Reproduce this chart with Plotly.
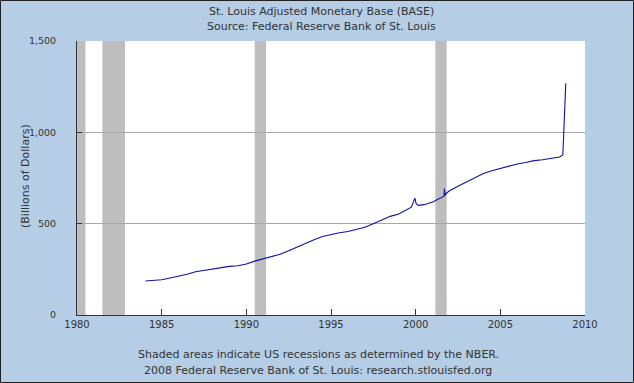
import plotly.graph_objects as go

dates = ["1984-01-15","1984-07-01","1985-01-01","1985-07-01","1986-01-01","1986-07-01",
         "1987-01-01","1987-07-01","1988-01-01","1988-07-01","1989-01-01","1989-07-01",
         "1990-01-01","1990-07-01","1991-01-01","1991-07-01","1992-01-01","1992-07-01",
         "1993-01-01","1993-07-01","1994-01-01","1994-07-01","1995-01-01","1995-07-01",
         "1996-01-01","1996-07-01","1997-01-01","1997-07-01","1998-01-01","1998-07-01",
         "1999-01-01","1999-07-01","1999-10-01","1999-12-15","2000-01-12","2000-03-01",
         "2000-07-01","2001-01-01","2001-07-01","2001-09-05","2001-09-12","2001-09-26",
         "2001-11-01","2002-01-01","2002-07-01","2003-01-01","2003-07-01","2004-01-01",
         "2004-07-01","2005-01-01","2005-07-01","2006-01-01","2006-07-01","2007-01-01",
         "2007-07-01","2008-01-01","2008-07-01","2008-09-10","2008-09-24","2008-10-08",
         "2008-10-22","2008-11-12"]
values = [186,189,193,203,212,223,
          237,245,252,261,266,270,
          279,295,308,318,333,352,
          373,392,412,430,442,450,
          457,467,480,500,520,540,
          553,575,590,640,610,600,
          604,618,640,650,692,655,
          668,680,705,730,752,775,
          790,803,815,827,835,845,
          850,857,865,876,985,1104,
          1180,1268]

rec_start = ["1980-01-01","1981-07-01","1990-07-01","2001-03-01"]
rec_end   = ["1980-07-01","1982-11-01","1991-03-01","2001-11-01"]

x_ticks = ["1980-01-01","1985-01-01","1990-01-01","1995-01-01","2000-01-01","2005-01-01","2010-01-01"]
x_labels = ["1980","1985","1990","1995","2000","2005","2010"]
y_ticks = [0,500,1000,1500]
y_labels = ["0","500","1,000","1,500"]

title_lines = ["St. Louis Adjusted Monetary Base (BASE)", "Source: Federal Reserve Bank of St. Louis"]
foot_lines = ["Shaded areas indicate US recessions as determined by the NBER.",
              "2008 Federal Reserve Bank of St. Louis: research.stlouisfed.org"]
y_title = "(Billions of Dollars)"

font = "DejaVu Sans"
txt = "#333333"

fig = go.Figure()
fig.add_trace(go.Scatter(x=dates, y=values, mode="lines",
                         line=dict(color="#1010A8", width=1.1), hoverinfo="skip"))

shapes = []
for s, e in zip(rec_start, rec_end):
    shapes.append(dict(type="rect", xref="x", yref="paper", x0=s, x1=e, y0=0, y1=1,
                       fillcolor="#BEBEBE", line=dict(width=0), layer="below"))

W, H = 634, 383
ml, mr, mt, mb = 77, 49, 41, 68
pw, ph = W - ml - mr, H - mt - mb

def px_x(p):
    return (p - ml) / pw

def px_y(p):
    return 1 - (p - mt) / ph

shapes.append(dict(type="rect", xref="paper", yref="paper",
                   x0=px_x(0.5), x1=px_x(W - 0.5), y0=px_y(H - 0.5), y1=px_y(0.5),
                   line=dict(color="#222222", width=1), fillcolor="rgba(0,0,0,0)"))

ann = []
for i, t in enumerate(title_lines):
    ann.append(dict(text=t, xref="paper", yref="paper", x=px_x(321), y=px_y(11 + 16 * i),
                    xanchor="center", yanchor="middle", showarrow=False,
                    font=dict(family=font, size=11, color=txt)))
for i, t in enumerate(foot_lines):
    ann.append(dict(text=t, xref="paper", yref="paper", x=px_x(318), y=px_y(354 + 16 * i),
                    xanchor="center", yanchor="middle", showarrow=False,
                    font=dict(family=font, size=11, color=txt)))
ann.append(dict(text=y_title, xref="paper", yref="paper", x=px_x(25), y=px_y(176),
                xanchor="center", yanchor="middle", showarrow=False, textangle=-90,
                font=dict(family=font, size=11, color=txt)))

fig.update_layout(
    width=W, height=H,
    margin=dict(l=ml, r=mr, t=mt, b=mb, pad=0, autoexpand=False),
    paper_bgcolor="#B5CDE5",
    plot_bgcolor="#FFFFFF",
    showlegend=False,
    font=dict(family=font, size=11, color=txt),
    shapes=shapes,
    annotations=ann,
    xaxis=dict(type="date", range=["1980-01-01", "2010-01-01"],
               tickvals=x_ticks, ticktext=x_labels,
               ticks="inside", ticklen=6, tickcolor="#333333",
               showline=True, linecolor="#333333", linewidth=1,
               showgrid=False, zeroline=False, automargin=False,
               tickfont=dict(family=font, size=10, color=txt)),
    yaxis=dict(range=[0, 1500], tickvals=y_ticks, ticktext=y_labels,
               ticks="inside", ticklen=5, tickcolor="#333333",
               showline=True, linecolor="#333333", linewidth=1,
               showgrid=True, gridcolor="#A8A8A8", gridwidth=1, zeroline=False,
               ticklabelstandoff=18, automargin=False,
               tickfont=dict(family=font, size=9.5, color=txt)),
)

fig.write_html("out.html", config={"displayModeBar": False},
               post_script="document.body.style.margin='0';")
